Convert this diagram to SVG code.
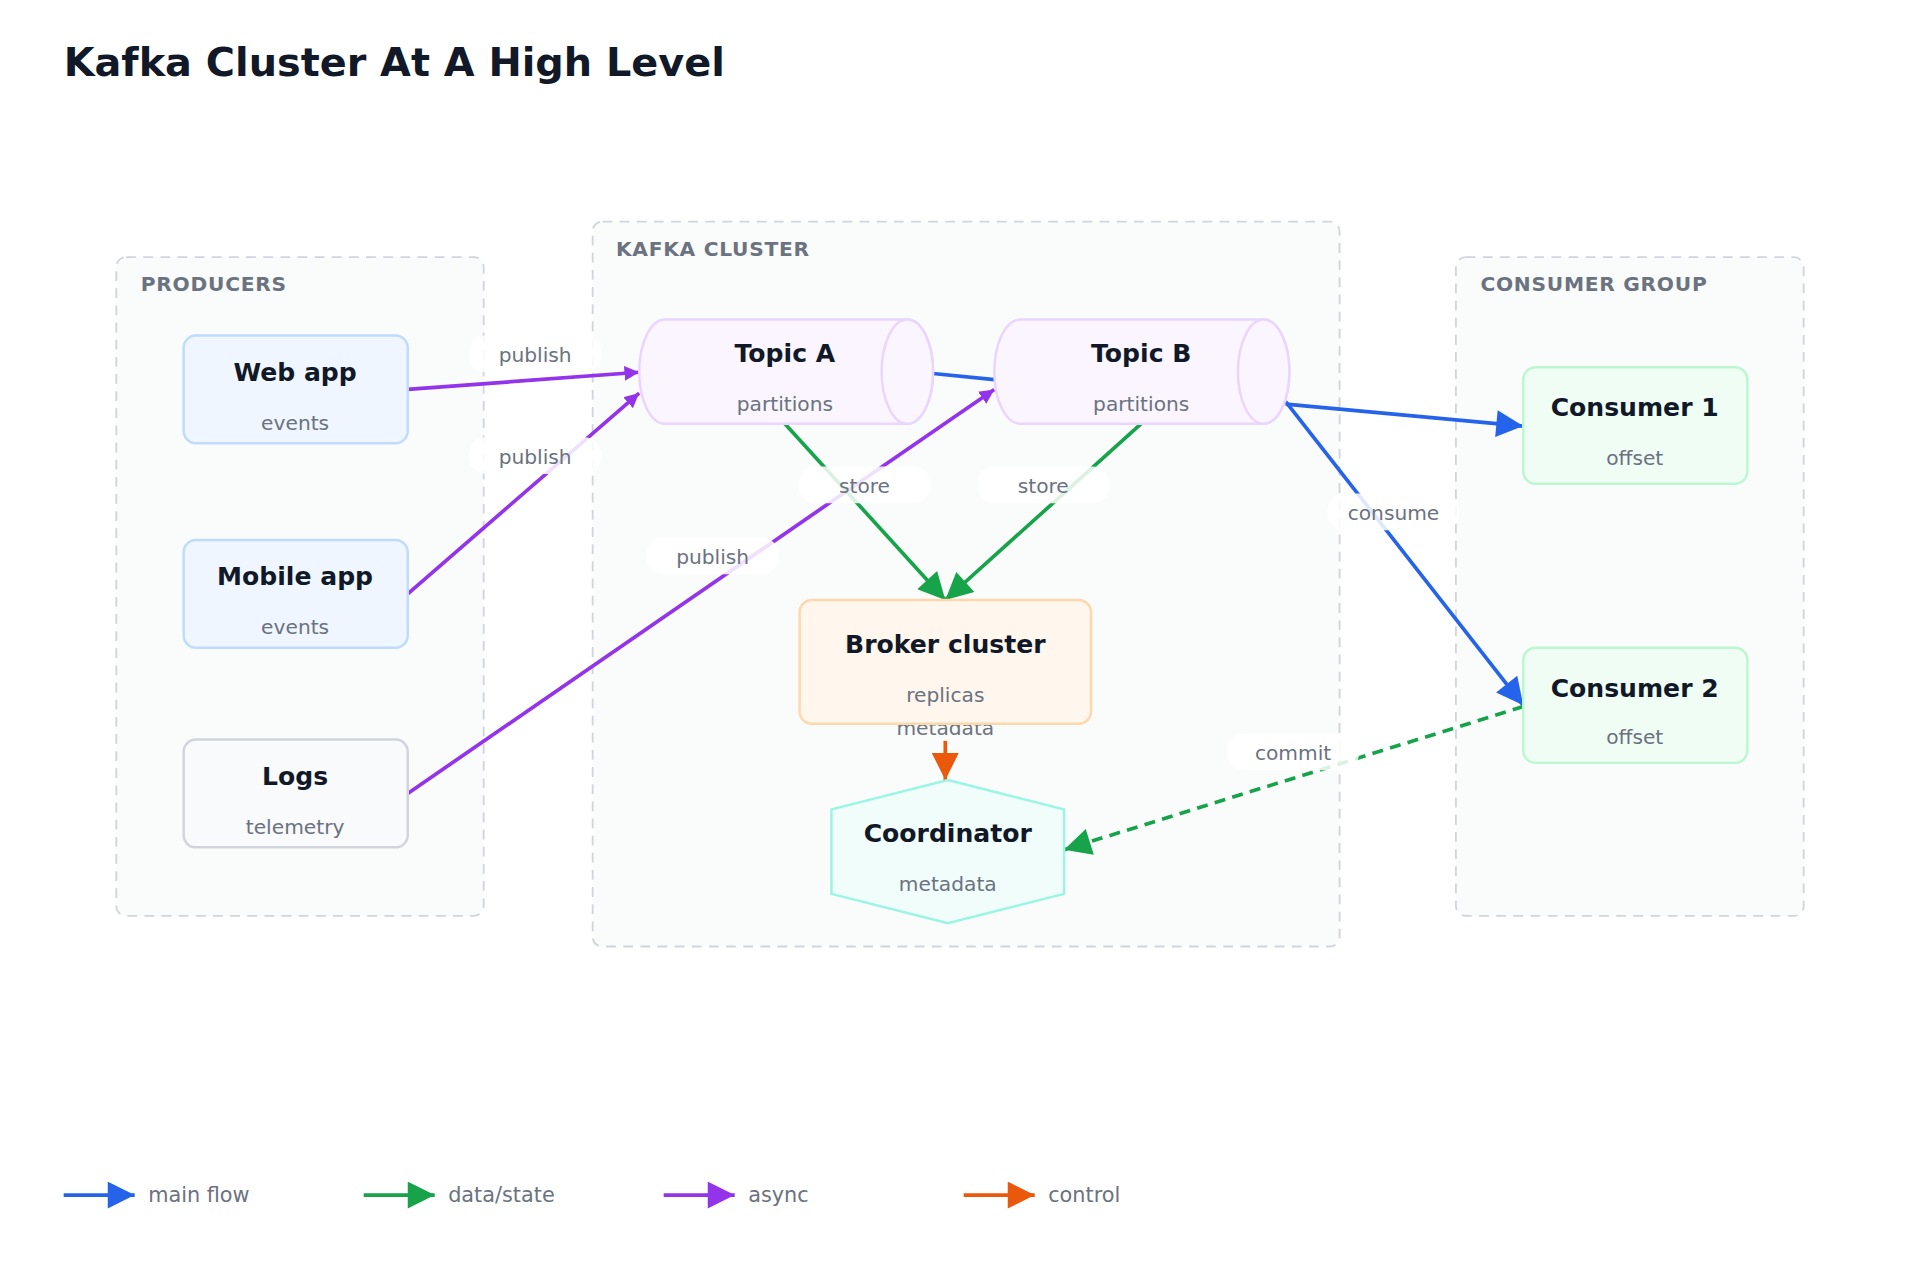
<svg xmlns="http://www.w3.org/2000/svg" width="1920" height="1280" viewBox="0 0 1920 1280">
<style>
text{font-family:"DejaVu Sans","Liberation Sans",sans-serif}
.grp{fill:#fafbfb;stroke:#d1d5db;stroke-width:1.5;stroke-dasharray:8 6}
.gl{font-size:16.5px;font-weight:bold;fill:#6b7280;letter-spacing:0.6px}
.t{font-size:20.5px;font-weight:bold;fill:#111827;text-anchor:middle}
.s{font-size:16.5px;fill:#6b7280;text-anchor:middle}
.e{fill:none;stroke-width:3}
.lb{fill:#fff;opacity:0.85}
.el{font-size:16.5px;fill:#6b7280;text-anchor:middle}
</style>
<defs>
<marker id="ab" viewBox="0 0 10 10" refX="10" refY="5" markerWidth="28" markerHeight="22" markerUnits="userSpaceOnUse" orient="auto"><path d="M0,0L10,5L0,10z" fill="#2563eb"/></marker>
<marker id="ag" viewBox="0 0 10 10" refX="10" refY="5" markerWidth="28" markerHeight="22" markerUnits="userSpaceOnUse" orient="auto"><path d="M0,0L10,5L0,10z" fill="#16a34a"/></marker>
<marker id="ap" viewBox="0 0 10 10" refX="10" refY="5" markerWidth="12" markerHeight="16" markerUnits="userSpaceOnUse" orient="auto"><path d="M0,0L10,5L0,10z" fill="#9333ea"/></marker>
<marker id="apl" viewBox="0 0 10 10" refX="10" refY="5" markerWidth="28" markerHeight="22" markerUnits="userSpaceOnUse" orient="auto"><path d="M0,0L10,5L0,10z" fill="#9333ea"/></marker>
<marker id="ao" viewBox="0 0 10 10" refX="10" refY="5" markerWidth="28" markerHeight="22" markerUnits="userSpaceOnUse" orient="auto"><path d="M0,0L10,5L0,10z" fill="#ea580c"/></marker>
</defs>
<rect width="1920" height="1280" fill="#fff"/>
<g transform="scale(1.22449)">
<text x="52" y="62" style="font-size:32.5px;font-weight:bold;fill:#111827">Kafka Cluster At A High Level</text>
<g id="producers"><rect class="grp" x="95" y="210" width="300" height="538" rx="8"/><text class="gl" x="115" y="238">PRODUCERS</text></g>
<g id="kafka-cluster"><rect class="grp" x="484" y="181" width="610" height="592" rx="8"/><text class="gl" x="503" y="209">KAFKA CLUSTER</text></g>
<g id="consumer-group"><rect class="grp" x="1189" y="210" width="284" height="538" rx="8"/><text class="gl" x="1209" y="238">CONSUMER GROUP</text></g>

<g id="edges">
<line class="e" stroke="#9333ea" x1="333" y1="318" x2="522" y2="304" marker-end="url(#ap)"/>
<line class="e" stroke="#9333ea" x1="333" y1="485" x2="522" y2="321" marker-end="url(#ap)"/>
<line class="e" stroke="#9333ea" x1="333" y1="648" x2="812" y2="318" marker-end="url(#ap)"/>
<line class="e" stroke="#2563eb" x1="762" y1="305" x2="812" y2="310"/>
<line class="e" stroke="#2563eb" x1="1050" y1="330" x2="1244" y2="348" marker-end="url(#ab)"/>
<line class="e" stroke="#2563eb" x1="1050" y1="328" x2="1244" y2="576" marker-end="url(#ab)"/>
<line class="e" stroke="#16a34a" x1="641" y1="346" x2="772" y2="490" marker-end="url(#ag)"/>
<line class="e" stroke="#16a34a" x1="932" y1="346" x2="772" y2="490" marker-end="url(#ag)"/>
<line class="e" stroke="#ea580c" x1="772" y1="605" x2="772" y2="637" marker-end="url(#ao)"/>
<line class="e" stroke="#16a34a" stroke-dasharray="9 6" x1="1244" y1="577" x2="869" y2="694" marker-end="url(#ag)"/>
<rect class="lb" x="383" y="274" width="108" height="30" rx="14"/><text class="el" x="437" y="296">publish</text>
<rect class="lb" x="383" y="357" width="108" height="30" rx="14"/><text class="el" x="437" y="379">publish</text>
<rect class="lb" x="528" y="439" width="108" height="30" rx="14"/><text class="el" x="582" y="461">publish</text>
<rect class="lb" x="1084" y="403" width="108" height="30" rx="14"/><text class="el" x="1138" y="425">consume</text>
<rect class="lb" x="652" y="381" width="108" height="30" rx="14"/><text class="el" x="706" y="403">store</text>
<rect class="lb" x="798" y="381" width="108" height="30" rx="14"/><text class="el" x="852" y="403">store</text>
<rect class="lb" x="1002" y="599" width="108" height="30" rx="14"/><text class="el" x="1056" y="621">commit</text>
<text class="el" x="772" y="600">metadata</text>
</g>

<g id="web-app"><rect x="150" y="274" width="183" height="88" rx="10" fill="#eff6ff" stroke="#bfdbfe" stroke-width="2"/><text class="t" x="241" y="311">Web app</text><text class="s" x="241" y="351">events</text></g>
<g id="mobile-app"><rect x="150" y="441" width="183" height="88" rx="10" fill="#eff6ff" stroke="#bfdbfe" stroke-width="2"/><text class="t" x="241" y="478">Mobile app</text><text class="s" x="241" y="518">events</text></g>
<g id="logs"><rect x="150" y="604" width="183" height="88" rx="10" fill="#f9fafb" stroke="#d1d5db" stroke-width="2"/><text class="t" x="241" y="641">Logs</text><text class="s" x="241" y="681">telemetry</text></g>
<g id="topic-a"><path d="M543,261H741A21,42.5 0 0 1 741,346H543A21,42.5 0 0 1 543,261Z" fill="#faf5ff" stroke="#e9d5ff" stroke-width="2"/><ellipse cx="741" cy="303.5" rx="21" ry="42.5" fill="#faf5ff" stroke="#e9d5ff" stroke-width="2"/><text class="t" x="641" y="296">Topic A</text><text class="s" x="641" y="336">partitions</text></g>
<g id="topic-b"><path d="M833,261H1032A21,42.5 0 0 1 1032,346H833A21,42.5 0 0 1 833,261Z" fill="#faf5ff" stroke="#e9d5ff" stroke-width="2"/><ellipse cx="1032" cy="303.5" rx="21" ry="42.5" fill="#faf5ff" stroke="#e9d5ff" stroke-width="2"/><text class="t" x="932" y="296">Topic B</text><text class="s" x="932" y="336">partitions</text></g>
<g id="broker"><rect x="653" y="490" width="238" height="101" rx="10" fill="#fff7ed" stroke="#fed7aa" stroke-width="2"/><text class="t" x="772" y="533">Broker cluster</text><text class="s" x="772" y="573">replicas</text></g>
<g id="coordinator"><polygon points="774,637 869,661 869,730 774,754 679,730 679,661" fill="#f0fdfa" stroke="#99f6e4" stroke-width="2"/><text class="t" x="774" y="688">Coordinator</text><text class="s" x="774" y="728">metadata</text></g>
<g id="consumer-1"><rect x="1244" y="300" width="183" height="95" rx="10" fill="#f0fdf4" stroke="#bbf7d0" stroke-width="2"/><text class="t" x="1335" y="340">Consumer 1</text><text class="s" x="1335" y="380">offset</text></g>
<g id="consumer-2"><rect x="1244" y="529" width="183" height="94" rx="10" fill="#f0fdf4" stroke="#bbf7d0" stroke-width="2"/><text class="t" x="1335" y="569">Consumer 2</text><text class="s" x="1335" y="608">offset</text></g>

<g id="legend">
<line class="e" stroke="#2563eb" x1="52" y1="976" x2="110" y2="976" marker-end="url(#ab)"/><text x="121" y="982" style="font-size:17px;fill:#6b7280">main flow</text>
<line class="e" stroke="#16a34a" x1="297" y1="976" x2="355" y2="976" marker-end="url(#ag)"/><text x="366" y="982" style="font-size:17px;fill:#6b7280">data/state</text>
<line class="e" stroke="#9333ea" x1="542" y1="976" x2="600" y2="976" marker-end="url(#apl)"/><text x="611" y="982" style="font-size:17px;fill:#6b7280">async</text>
<line class="e" stroke="#ea580c" x1="787" y1="976" x2="845" y2="976" marker-end="url(#ao)"/><text x="856" y="982" style="font-size:17px;fill:#6b7280">control</text>
</g>
</g>
</svg>
